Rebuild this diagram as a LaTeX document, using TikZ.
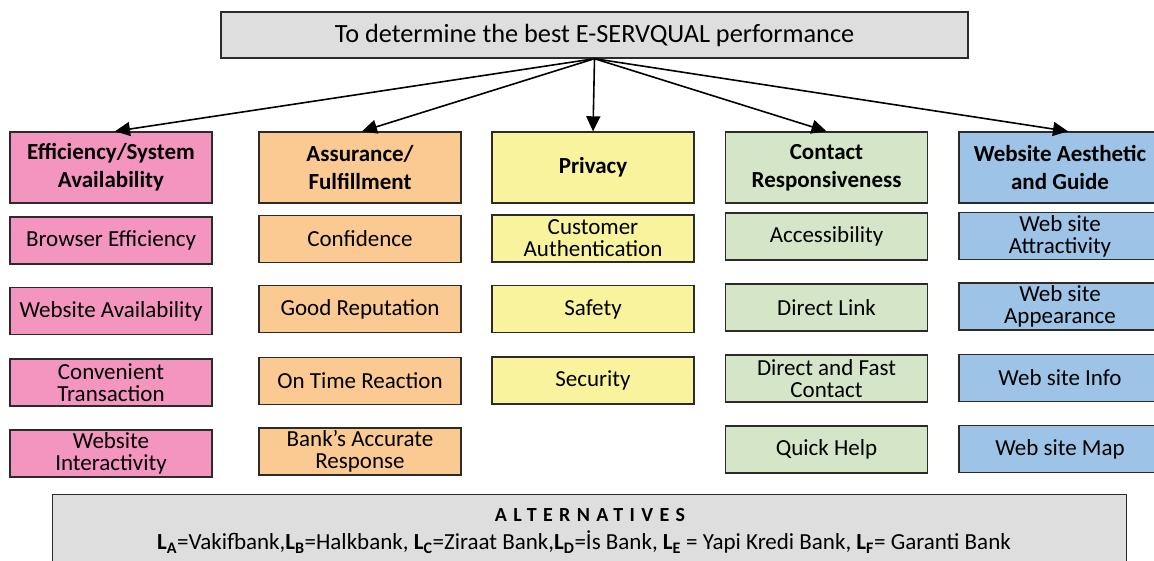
\documentclass[tikz,border=0pt]{standalone}
\usepackage{fontspec}
\setmainfont{Carlito}
\usetikzlibrary{arrows.meta,calc}
\definecolor{cpink}{HTML}{F495BF}
\definecolor{corange}{HTML}{FBCA93}
\definecolor{cyellow}{HTML}{F8F39C}
\definecolor{cgreen}{HTML}{D4E6C7}
\definecolor{cblue}{HTML}{9DC3E6}
\definecolor{cgray}{HTML}{DEDEDE}
\definecolor{cline}{HTML}{2B2B2B}
\begin{document}
\begin{tikzpicture}[x=1pt,y=-1pt,
  base/.style={draw=cline, line width=1.4pt, inner sep=0pt, align=center},
  cell/.style={base, minimum width=202pt, minimum height=47pt, font=\fontsize{23}{22}\selectfont},
  head/.style={base, minimum width=202pt, minimum height=71pt, font=\bfseries\fontsize{23}{28}\selectfont},
  arr/.style={line width=1.6pt, -{Triangle[length=15pt,width=14pt]}}]
\useasboundingbox (0,0) rectangle (1154,561);
% top
\node[base, fill=cgray, minimum width=747pt, minimum height=46pt, font=\fontsize{26.3}{30}\selectfont] (top) at (594.5,35) {To determine the best E-SERVQUAL performance};
% headers
\node[head, fill=cpink] (h1) at (111,167.5) {Efficiency/System\\Availability};
\node[head, fill=corange] (h2) at (360,167.5) {Assurance/\\Fulfillment};
\node[head, fill=cyellow] (h3) at (593,167.5) {Privacy};
\node[head, fill=cgreen] (h4) at (826.5,167.5) {Contact\\Responsiveness};
\node[head, fill=cblue] (h5) at (1060,167.5) {Website Aesthetic\\and Guide};
% column 1
\node[cell, fill=cpink] (a1) at (111,240.5) {Browser Efficiency};
\node[cell, fill=cpink] (a2) at (111,311) {Website Availability};
\node[cell, fill=cpink] (a3) at (111,382.5) {Convenient\\Transaction};
\node[cell, fill=cpink] (a4) at (111,453.5) {Website\\Interactivity};
% column 2
\node[cell, fill=corange] (b1) at (360,239) {Confidence};
\node[cell, fill=corange] (b2) at (360,309) {Good Reputation};
\node[cell, fill=corange] (b3) at (360,381) {On Time Reaction};
\node[cell, fill=corange] (b4) at (360,451.5) {Bank’s Accurate\\Response};
% column 3
\node[cell, fill=cyellow] (c1) at (593,238.5) {Customer\\Authentication};
\node[cell, fill=cyellow] (c2) at (593,309) {Safety};
\node[cell, fill=cyellow] (c3) at (593,380.5) {Security};
% column 4
\node[cell, fill=cgreen] (d1) at (826.5,236.5) {Accessibility};
\node[cell, fill=cgreen] (d2) at (826.5,307.5) {Direct Link};
\node[cell, fill=cgreen] (d3) at (826.5,378.5) {Direct and Fast\\Contact};
\node[cell, fill=cgreen] (d4) at (826.5,449.5) {Quick Help};
% column 5
\node[cell, fill=cblue] (e1) at (1060,236) {Web site\\Attractivity};
\node[cell, fill=cblue] (e2) at (1060,306.5) {Web site\\Appearance};
\node[cell, fill=cblue] (e3) at (1060,378) {Web site Info};
\node[cell, fill=cblue] (e4) at (1060,449) {Web site Map};
% alternatives
\node[base, fill=cgray, minimum width=1074pt, minimum height=80pt, anchor=north west] (alt) at (52,494) {};
\node[font=\bfseries\fontsize{20}{22}\selectfont\addfontfeature{LetterSpace=32}, inner sep=0pt] (altt) at (590,515) {ALTERNATIVES};
\node[font=\fontsize{23}{24}\selectfont, inner sep=0pt] (altl) at (584,542) {\textbf{L\textsubscript{A}}=Vakifbank,\textbf{L\textsubscript{B}}=Halkbank, \textbf{L\textsubscript{C}}=Ziraat Bank,\textbf{L\textsubscript{D}}=İs Bank, \textbf{L\textsubscript{E}} = Yapi Kredi Bank, \textbf{L\textsubscript{F}}= Garanti Bank};
% arrows
\draw[arr] (top.south) -- ($(h1.north)+(4,0)$);
\draw[arr] (top.south) -- ($(h2.north)+(2,0)$);
\draw[arr] (top.south) -- (h3.north);
\draw[arr] (top.south) -- (h4.north);
\draw[arr] (top.south) -- ($(h5.north)+(8,0)$);
\end{tikzpicture}
\end{document}
